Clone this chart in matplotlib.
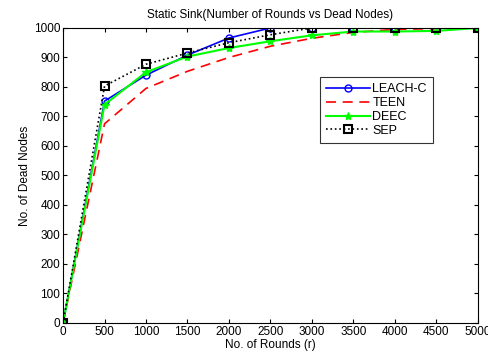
import matplotlib
matplotlib.use('Agg')
import matplotlib.pyplot as plt

rounds = [0, 500, 1000, 1500, 2000, 2500, 3000, 3500, 4000, 4500, 5000]
leach_c = [0, 752, 840, 908, 966, 1000, 1000, 1000, 1000, 1000, 1000]
teen = [0, 675, 795, 853, 900, 938, 965, 985, 995, 998, 1000]
deec = [0, 740, 850, 903, 932, 955, 975, 988, 988, 990, 1000]
sep = [0, 803, 877, 915, 950, 977, 1000, 1000, 1000, 1000, 1000]

plt.rcParams['font.family'] = ['Liberation Sans', 'DejaVu Sans']
plt.rcParams['font.size'] = 8.5

fig = plt.figure(figsize=(4.89, 3.54), dpi=100)
ax = fig.add_axes([0.129, 0.088, 0.848, 0.833])

ax.plot(rounds, leach_c, color='blue', marker='o', markersize=5, markerfacecolor='none',
        linewidth=1.2, label='LEACH-C')
ax.plot(rounds, teen, color='red', linestyle=(0, (6, 4)), linewidth=1.2, label='TEEN')
ax.plot(rounds, deec, color='#00ff00', marker='*', markersize=6, linewidth=1.5, label='DEEC')
ax.plot(rounds, sep, color='black', linestyle=':', marker='s', markersize=6,
        markerfacecolor='none', markeredgewidth=1.5, linewidth=1.2, label='SEP')

ax.set_xlim(0, 5000)
ax.set_ylim(0, 1000)
ax.set_xticks(range(0, 5001, 500))
ax.set_yticks(range(0, 1001, 100))
ax.tick_params(direction='in', top=True, right=True, length=3, labelsize=8.5, pad=2)
ax.set_title('Static Sink(Number of Rounds vs Dead Nodes)', fontsize=8.5, pad=7)
ax.set_xlabel('No. of Rounds (r)', fontsize=8.5, labelpad=1)
ax.set_ylabel('No. of Dead Nodes', fontsize=8.5, labelpad=2)

leg = ax.legend(loc='upper left', bbox_to_anchor=(0.619, 0.834), fancybox=False,
                edgecolor='black', fontsize=9, handlelength=3.5, borderpad=0.5,
                labelspacing=0.15, handletextpad=0.2, borderaxespad=0)
leg.get_frame().set_linewidth(0.8)

fig.savefig('out.png', dpi=100)
